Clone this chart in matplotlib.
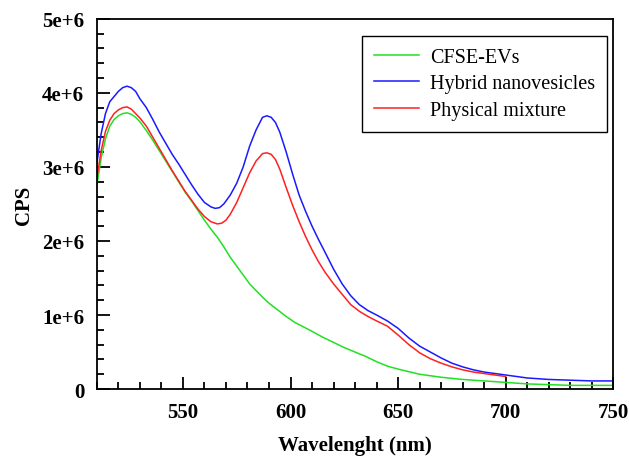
import numpy as np
import matplotlib
matplotlib.use("Agg")
import matplotlib.pyplot as plt
from matplotlib.ticker import MultipleLocator, FuncFormatter

plt.rcParams['font.family'] = ['Liberation Serif', 'DejaVu Serif']

# values (CPS in units of 1e6)
wl_evs = [510, 512, 514, 516, 518, 520, 522, 524, 526, 528, 530, 533, 536, 539,
          542, 545, 548, 551, 554, 557, 560, 563, 566, 569, 572, 575, 578, 581,
          584, 587, 590, 594, 598, 602, 606, 610, 615, 620, 625, 630, 635, 640,
          645, 650, 660, 670, 680, 690, 700, 710, 720, 730, 740, 750]
cps_evs = [2.75, 3.12, 3.38, 3.55, 3.64, 3.69, 3.72, 3.73, 3.71, 3.67, 3.61, 3.49,
           3.36, 3.22, 3.08, 2.94, 2.80, 2.66, 2.54, 2.41, 2.28, 2.16, 2.05, 1.92,
           1.78, 1.66, 1.54, 1.42, 1.33, 1.24, 1.16, 1.07, 0.98, 0.90, 0.84, 0.78,
           0.70, 0.63, 0.56, 0.50, 0.44, 0.37, 0.31, 0.27, 0.20, 0.16, 0.13, 0.11,
           0.09, 0.07, 0.06, 0.05, 0.05, 0.05]

wl_hybrid = [510, 512, 514, 516, 518, 520, 522, 524, 526, 528, 530, 533, 536, 539,
             542, 545, 548, 551, 554, 557, 560, 563, 565, 567, 569, 572, 575, 578,
             581, 584, 587, 589, 591, 593, 595, 598, 601, 604, 607, 610, 613, 616,
             620, 624, 628, 632, 636, 640, 645, 650, 655, 660, 665, 670, 675, 680,
             685, 690, 695, 700, 705, 710, 715, 720, 730, 740, 750]
cps_hybrid = [3.05, 3.45, 3.72, 3.88, 3.95, 4.02, 4.07, 4.09, 4.07, 4.02, 3.92, 3.80,
              3.64, 3.47, 3.32, 3.17, 3.04, 2.90, 2.76, 2.63, 2.52, 2.46, 2.44, 2.45,
              2.50, 2.62, 2.78, 3.00, 3.28, 3.50, 3.67, 3.69, 3.67, 3.60, 3.47, 3.20,
              2.90, 2.62, 2.40, 2.20, 2.02, 1.85, 1.62, 1.42, 1.26, 1.14, 1.06, 1.00,
              0.92, 0.82, 0.69, 0.58, 0.50, 0.42, 0.35, 0.30, 0.26, 0.23, 0.21, 0.19,
              0.17, 0.15, 0.14, 0.13, 0.12, 0.11, 0.11]

wl_mix = [510, 512, 514, 516, 518, 520, 522, 524, 526, 528, 530, 533, 536, 539,
          542, 545, 548, 551, 554, 557, 560, 563, 566, 568, 570, 572, 575, 578,
          581, 584, 587, 589, 591, 593, 595, 598, 601, 604, 607, 610, 613, 616,
          620, 624, 628, 632, 636, 640, 645, 650, 655, 660, 665, 670, 675, 680,
          685, 690, 695, 700]
cps_mix = [2.85, 3.22, 3.48, 3.63, 3.72, 3.77, 3.80, 3.81, 3.78, 3.72, 3.66, 3.55,
           3.40, 3.25, 3.10, 2.95, 2.81, 2.67, 2.55, 2.43, 2.33, 2.26, 2.23, 2.24,
           2.28, 2.36, 2.52, 2.72, 2.92, 3.08, 3.18, 3.19, 3.17, 3.10, 2.97, 2.72,
           2.48, 2.26, 2.06, 1.88, 1.72, 1.58, 1.42, 1.28, 1.14, 1.05, 0.98, 0.92,
           0.85, 0.73, 0.60, 0.49, 0.41, 0.35, 0.30, 0.26, 0.23, 0.21, 0.19, 0.17]

labels = ['CFSE-EVs', 'Hybrid nanovesicles', 'Physical mixture']
colors = ['#22e022', '#1a1aff', '#ff2020']

fig = plt.figure(figsize=(6.29, 4.60), dpi=100)
ax = fig.add_axes([0.154, 0.152, 0.821, 0.805])

for wl, cps, lab, col in zip([wl_evs, wl_hybrid, wl_mix],
                             [cps_evs, cps_hybrid, cps_mix], labels, colors):
    ax.plot(wl, np.array(cps) * 1e6, color=col, lw=1.1, label=lab)

ax.set_xlim(510, 750)
ax.set_ylim(0, 5e6)
ax.xaxis.set_major_locator(MultipleLocator(50))
ax.xaxis.set_minor_locator(MultipleLocator(10))
ax.yaxis.set_major_locator(MultipleLocator(1e6))
ax.yaxis.set_minor_locator(MultipleLocator(2e5))
ax.yaxis.set_major_formatter(FuncFormatter(
    lambda v, p: '0' if v == 0 else '%de+6' % round(v / 1e6)))

ax.tick_params(which='both', direction='in', top=False, right=False, width=1.3)
ax.tick_params(which='major', length=9, pad=9, labelsize=15)
ax.tick_params(which='minor', length=5)
for t in ax.get_xticklabels() + ax.get_yticklabels():
    t.set_fontweight('bold')
for s in ax.spines.values():
    s.set_linewidth(1.3)

ax.set_xlabel('Wavelenght (nm)', fontsize=15, fontweight='bold', labelpad=10)
ax.set_ylabel('CPS', fontsize=15, fontweight='bold', labelpad=6)

leg = ax.legend(loc='upper right', bbox_to_anchor=(0.988, 0.954), fontsize=14.5,
                fancybox=False, framealpha=1, edgecolor='black',
                handlelength=2.2, handletextpad=0.55, labelspacing=0.36,
                borderpad=0.6, borderaxespad=0)
leg.get_frame().set_linewidth(1.0)

fig.savefig('out.png', dpi=100)
